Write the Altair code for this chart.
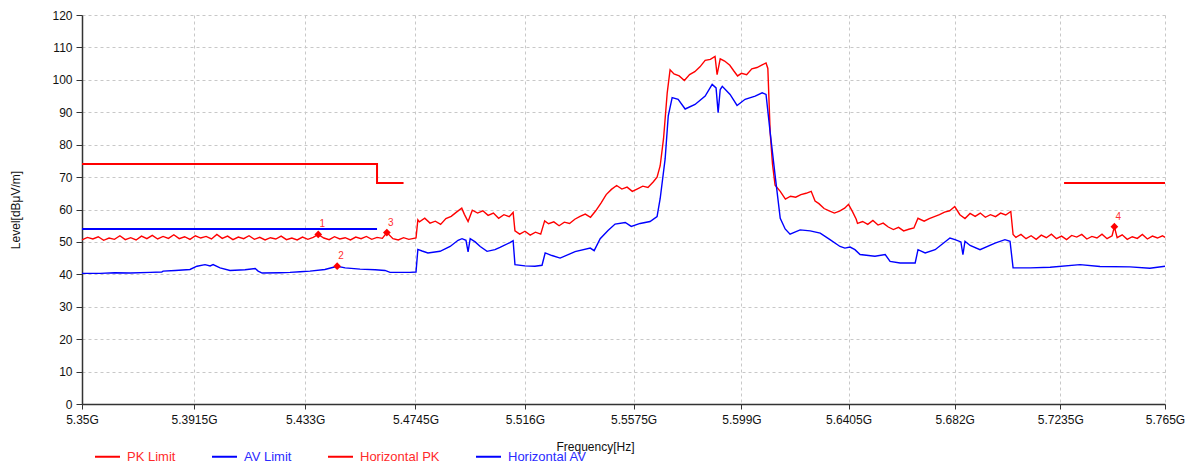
import json
import altair as alt
import pandas as pd

# ---------------- axis ticks ----------------
tick_mhz = [5350, 5391.5, 5433, 5474.5, 5516, 5557.5, 5599, 5640.5, 5682, 5723.5, 5765]
tick_labels = ["5.35G", "5.3915G", "5.433G", "5.4745G", "5.516G", "5.5575G",
               "5.599G", "5.6405G", "5.682G", "5.7235G", "5.765G"]
y_ticks = [0, 10, 20, 30, 40, 50, 60, 70, 80, 90, 100, 110, 120]

series_names = ["PK Limit", "AV Limit", "Horizontal PK", "Horizontal AV"]
series_colors = ["#ff0000", "#0000ff", "#ff0000", "#0000ff"]

# ---------------- limits (MHz, dBuV/m) ----------------
pk_limit_f = [5350, 5460, 5460, 5470, 5725, 5765]
pk_limit_v = [74, 74, 68.2, 68.2, 68.2, 68.2]
pk_limit_seg = [1, 1, 1, 1, 2, 2]
av_limit_f = [5350, 5460]
av_limit_v = [54, 54]

# ---------------- Horizontal AV trace ----------------
av_f = [5350.0, 5356.7, 5362.0, 5367.8, 5375.2, 5379.5, 5380.0, 5384.5, 5390.0, 5392.6,
        5395.6, 5397.5, 5398.6, 5401.2, 5404.9, 5410.5, 5414.3, 5415.4, 5416.9, 5423.6,
        5427.3, 5431.1, 5434.8, 5440.4, 5445.0, 5448.0, 5453.6, 5459.3, 5463.0, 5464.9,
        5472.4, 5474.7, 5475.4, 5477.0, 5479.2, 5483.8, 5487.6, 5490.6, 5492.1, 5493.6,
        5494.4, 5495.2, 5497.1, 5499.0, 5501.6, 5504.6, 5506.5, 5510.3, 5511.5, 5512.2,
        5516.0, 5519.8, 5522.5, 5523.7, 5526.3, 5529.4, 5535.1, 5540.9, 5542.4, 5544.7,
        5547.7, 5550.4, 5554.3, 5556.6, 5560.0, 5563.8, 5566.5, 5567.7, 5569.6, 5570.8,
        5572.3, 5574.6, 5577.3, 5581.1, 5585.0, 5587.7, 5589.2, 5590.0, 5590.8, 5591.6,
        5594.6, 5597.3, 5600.4, 5604.3, 5607.0, 5608.5, 5610.1, 5612.0, 5614.0, 5615.9,
        5617.8, 5621.7, 5625.6, 5629.5, 5633.3, 5637.2, 5639.1, 5641.1, 5643.0, 5645.0,
        5650.8, 5654.8, 5656.7, 5660.6, 5666.5, 5667.6, 5670.4, 5674.3, 5680.1, 5682.1,
        5684.4, 5685.2, 5686.0, 5688.0, 5691.9, 5697.8, 5701.7, 5703.7, 5704.9, 5711.6,
        5719.5, 5731.3, 5739.2, 5751.1, 5759.0, 5765.0]
av_v = [40.3, 40.3, 40.5, 40.4, 40.6, 40.7, 41.0, 41.2, 41.5, 42.5,
        43.0, 42.6, 43.0, 42.0, 41.2, 41.4, 41.8, 41.0, 40.4, 40.5,
        40.6, 40.8, 41.0, 41.5, 42.5, 42.0, 41.6, 41.4, 41.2, 40.6,
        40.6, 40.7, 47.7, 47.2, 46.6, 47.1, 48.6, 50.5, 51.0, 50.5,
        46.9, 51.0, 50.0, 48.6, 47.1, 47.6, 48.3, 49.8, 50.4, 43.0,
        42.6, 42.5, 42.8, 46.6, 45.8, 45.0, 47.0, 48.1, 47.3, 51.0,
        53.5, 55.5, 56.0, 54.8, 55.7, 56.3, 57.8, 63.4, 75.6, 88.9,
        94.5, 94.0, 91.0, 92.4, 95.0, 98.6, 97.5, 89.9, 97.0, 98.0,
        95.5, 92.1, 94.0, 95.0, 96.0, 95.5, 83.8, 70.6, 57.3, 54.0,
        52.4, 53.7, 53.4, 52.7, 50.7, 48.6, 48.1, 48.4, 47.6, 46.1,
        45.6, 46.1, 44.0, 43.5, 43.5, 47.6, 46.6, 47.6, 51.2, 50.7,
        50.0, 46.1, 50.2, 48.9, 47.6, 49.6, 50.7, 50.2, 42.0, 42.0,
        42.2, 43.0, 42.4, 42.3, 41.9, 42.5]

# ---------------- Horizontal PK trace ----------------
pk_f = [5350, 5352, 5354, 5356, 5358, 5360, 5362, 5364, 5366, 5368,
        5370, 5372, 5374, 5376, 5378, 5380, 5382, 5384, 5386, 5388,
        5390, 5392, 5394, 5396, 5398, 5400, 5402, 5404, 5406, 5408,
        5410, 5412, 5414, 5416, 5418, 5420, 5422, 5424, 5426, 5428,
        5430, 5432, 5434, 5436, 5437.9, 5440, 5442, 5444, 5446, 5448,
        5450, 5452, 5454, 5456, 5458, 5460, 5462, 5463.7, 5466, 5468,
        5470, 5472, 5474.7, 5475.4, 5476, 5478, 5480, 5482, 5484, 5486,
        5488, 5490, 5492, 5493, 5494.4, 5496, 5498, 5500, 5502, 5504,
        5506, 5508, 5510, 5511.5, 5512.2, 5514, 5516, 5518, 5520, 5522,
        5523.5, 5525, 5527, 5529, 5531, 5533, 5535, 5537, 5539, 5541,
        5543, 5545, 5547, 5549, 5551, 5553, 5555, 5557, 5559, 5561,
        5563, 5565, 5566.5, 5567.7, 5569, 5570.4, 5571.5, 5573, 5575, 5577,
        5579, 5581, 5583, 5585, 5587, 5588.8, 5589.6, 5590.8, 5592.5, 5594.5,
        5596, 5597.5, 5599, 5601, 5603, 5605, 5607, 5608.5, 5609.2, 5610.1,
        5611, 5612, 5614, 5616, 5618, 5620, 5622, 5624, 5626, 5627.5,
        5629, 5631, 5633, 5635, 5637, 5639, 5640.5, 5642, 5643.5, 5644,
        5646, 5648, 5650, 5652, 5654, 5656, 5658, 5660, 5662, 5664,
        5666, 5667.6, 5670, 5672, 5674, 5676, 5678, 5680, 5682, 5684,
        5686, 5688, 5690, 5692, 5694, 5696, 5698, 5700, 5702, 5704,
        5704.9, 5706, 5708, 5710, 5712, 5714, 5716, 5718, 5720, 5722,
        5724, 5726, 5728, 5730, 5732, 5734, 5736, 5738, 5740, 5742,
        5744, 5744.9, 5746, 5748, 5750, 5752, 5754, 5756, 5758, 5760,
        5762, 5764, 5765]
pk_v = [50.6, 51.4, 50.9, 51.6, 50.5, 51.2, 50.8, 51.9, 50.7, 51.3,
        50.6, 51.8, 51.0, 52.0, 50.9, 51.7, 51.1, 52.2, 51.0, 51.6,
        50.8, 51.9, 51.2, 51.7, 50.9, 52.3, 51.1, 51.8, 50.7, 51.5,
        51.0, 51.9, 50.8, 51.4, 50.6, 51.3, 50.9, 51.8, 50.7, 51.2,
        50.6, 51.5, 50.8, 51.4, 52.3, 51.2, 50.7, 51.6, 50.9, 51.3,
        50.6, 51.5, 51.0, 51.7, 50.8, 51.4, 51.1, 52.9, 51.0, 50.6,
        51.3, 50.8, 51.2, 56.8, 56.2, 57.3, 55.8, 56.4, 55.4, 57.2,
        57.9, 59.2, 60.4, 58.5, 56.3, 59.8, 58.9, 59.6, 58.2, 58.9,
        57.3, 58.4, 57.8, 59.1, 53.4, 52.4, 53.3, 52.1, 53.0, 52.4,
        56.5, 55.6, 56.2, 55.0, 56.1, 55.7, 57.0, 57.9, 58.6, 57.6,
        59.6, 62.0, 64.6, 66.2, 67.4, 66.3, 66.9, 65.6, 66.4, 67.2,
        66.8, 68.5, 70.0, 73.5, 82.0, 96.0, 103.1, 101.8, 101.2, 99.8,
        101.6, 102.5, 104.0, 106.0, 106.3, 107.2, 101.6, 106.5, 105.8, 104.5,
        102.8, 101.2, 102.0, 101.6, 103.4, 103.8, 104.6, 105.2, 103.5, 83.8,
        74.0, 67.5, 65.6, 63.2, 64.1, 63.8, 64.6, 65.0, 65.6, 62.6,
        61.8, 60.3, 59.6, 58.9, 59.5, 60.4, 61.6, 59.4, 57.0, 55.7,
        56.3, 55.4, 56.6, 55.2, 55.8, 54.6, 53.8, 54.5, 53.4, 53.9,
        54.3, 57.3, 56.4, 57.2, 57.8, 58.4, 59.2, 59.6, 60.9, 58.4,
        57.2, 58.8, 57.9, 58.9, 57.6, 58.4, 57.8, 58.9, 58.3, 59.4,
        52.3, 51.4, 52.3, 51.0, 51.9, 50.8, 52.1, 51.3, 52.4, 51.0,
        51.8, 50.7, 52.0, 51.5, 52.3, 50.9, 51.7, 51.2, 52.4, 51.0,
        51.9, 54.7, 51.3, 52.2, 50.8, 51.6, 51.1, 52.3, 50.9, 51.8,
        51.2, 51.9, 51.4]

# ---------------- markers ----------------
marker_id = ["1", "2", "3", "4"]
marker_f = [5437.9, 5445.0, 5463.7, 5744.9]
marker_v = [52.3, 42.5, 52.9, 54.7]

# ---------------- build tables ----------------
def table(name, fs, vs, segs=None):
    return pd.DataFrame({
        "f": [x * 1e6 for x in fs],
        "v": vs,
        "series": name,
        "seg": segs if segs is not None else [1] * len(fs),
        "idx": list(range(len(fs))),
    })

limits = pd.concat([table("PK Limit", pk_limit_f, pk_limit_v, pk_limit_seg),
                    table("AV Limit", av_limit_f, av_limit_v)])
traces = pd.concat([table("Horizontal PK", pk_f, pk_v),
                    table("Horizontal AV", av_f, av_v)])
markers = pd.DataFrame({"f": [x * 1e6 for x in marker_f], "v": marker_v, "id": marker_id})

codes = [round(m * 10) for m in tick_mhz]
label_expr = f"{json.dumps(tick_labels)}[indexof({json.dumps(codes)}, round(datum.value/1e5))]"

FONT = "Liberation Sans"

x_axis = alt.Axis(values=[m * 1e6 for m in tick_mhz], tickCount=len(tick_mhz) + 2,
                  labelExpr=label_expr,
                  title="Frequency[Hz]", titleX=513, titleY=46,
                  titleAlign="center", titleBaseline="alphabetic",
                  labelPadding=5, tickSize=5, labelFlush=False, labelOverlap=False)
y_axis = alt.Axis(values=y_ticks, tickCount=len(y_ticks) + 2, title="Level[dBμV/m]", titleX=-60,
                  labelPadding=4, tickSize=6, labelOverlap=False)

x_scale = alt.Scale(type="log", domain=[tick_mhz[0] * 1e6, tick_mhz[-1] * 1e6], nice=False)
y_scale = alt.Scale(domain=[0, 120], nice=False)

x_enc = alt.X("f:Q", scale=x_scale, axis=x_axis)
y_enc = alt.Y("v:Q", scale=y_scale, axis=y_axis)
color_enc = alt.Color("series:N",
                      scale=alt.Scale(domain=series_names, range=series_colors),
                      legend=alt.Legend(title=None, orient="none", direction="horizontal",
                                        legendX=12, legendY=428, symbolType="stroke",
                                        symbolSize=625, symbolStrokeWidth=2,
                                        labelFontSize=13, labelOffset=6, columnPadding=32,
                                        padding=0,
                                        labelColor={"expr": "indexof(['PK Limit','Horizontal PK'], datum.label) >= 0 ? '#ff2a2a' : '#2a2aff'"}))

limit_layer = alt.Chart(limits).mark_line(strokeWidth=2).encode(
    x=x_enc, y=y_enc, color=color_enc, detail="seg:N", order="idx:Q")
trace_layer = alt.Chart(traces).mark_line(strokeWidth=1.4).encode(
    x=x_enc, y=y_enc, color=color_enc, order="idx:Q")
marker_layer = alt.Chart(markers).mark_point(shape="diamond", filled=True, size=60,
                                             color="#ff0000", opacity=1).encode(
    x=x_enc, y=y_enc)
text_layer = alt.Chart(markers).mark_text(dx=4, dy=-10, fontSize=10, color="#ff3030",
                                          font=FONT).encode(x=x_enc, y=y_enc, text="id:N")

chart = alt.layer(limit_layer, trace_layer, marker_layer, text_layer).properties(
    width=1083, height=389,
    autosize=alt.AutoSizeParams(type="none"),
    padding={"left": 74, "top": 7, "right": 22, "bottom": 61},
).configure_axis(
    labelFont=FONT, titleFont=FONT, labelFontSize=12, titleFontSize=12,
    titleFontWeight="normal", labelColor="#111111", titleColor="#111111",
    domainColor="#333333", domainWidth=1.5, tickColor="#333333",
    gridColor="#c8c8c8", gridDash=[3, 3], gridWidth=1,
).configure_legend(labelFont=FONT).configure_view(strokeWidth=0)

chart.save("out.html", embed_options={"renderer": "svg", "actions": False})
